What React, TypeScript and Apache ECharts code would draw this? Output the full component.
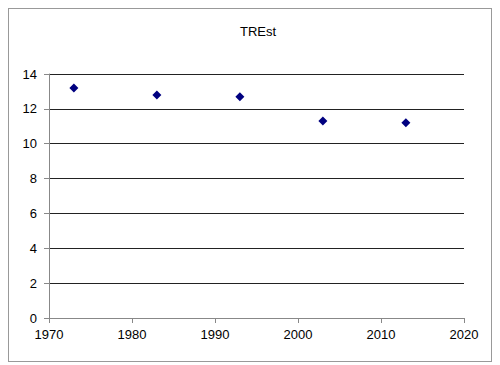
import React, { useEffect, useRef } from "react";
import * as echarts from "echarts";

const years = [1973, 1983, 1993, 2003, 2013];
const values = [13.2, 12.8, 12.7, 11.3, 11.2];
const titleText = "TREst";

export default function App() {
  const ref = useRef<HTMLDivElement>(null);
  useEffect(() => {
    if (!ref.current) return;
    const chart = echarts.init(ref.current, null, { renderer: "svg" });
    chart.setOption({
      animation: false,
      backgroundColor: "#ffffff",
      title: {
        text: titleText,
        left: 226,
        top: 11,
        textStyle: { fontFamily: "Liberation Sans", fontSize: 13, fontWeight: "normal", color: "#000" },
      },
      grid: { left: 40, right: 27, top: 65, bottom: 43 },
      xAxis: {
        type: "value",
        min: 1970,
        max: 2020,
        interval: 10,
        axisLine: { show: true, lineStyle: { color: "#888", width: 1 } },
        axisTick: { show: true, length: 5, lineStyle: { color: "#888" } },
        axisLabel: {
          margin: 10,
          fontFamily: "Liberation Sans",
          fontSize: 13,
          color: "#000",
          formatter: (v: number) => String(v),
        },
        splitLine: { show: false },
      },
      yAxis: {
        type: "value",
        min: 0,
        max: 14,
        interval: 2,
        axisLine: { show: true, lineStyle: { color: "#888", width: 1 } },
        axisTick: { show: true, length: 5, lineStyle: { color: "#888" } },
        axisLabel: { margin: 12, fontFamily: "Liberation Sans", fontSize: 13, color: "#000" },
        splitLine: { show: true, lineStyle: { color: "#222", width: 1 } },
      },
      series: [
        {
          type: "scatter",
          data: years.map((y, i) => [y, values[i]]),
          symbol: "diamond",
          symbolSize: 9,
          itemStyle: { color: "#000080", opacity: 1 },
        },
      ],
    });
    return () => chart.dispose();
  }, []);
  return (
    <div
      ref={ref}
      style={{ width: 482, height: 352, border: "1px solid #999", boxSizing: "content-box" }}
    />
  );
}
